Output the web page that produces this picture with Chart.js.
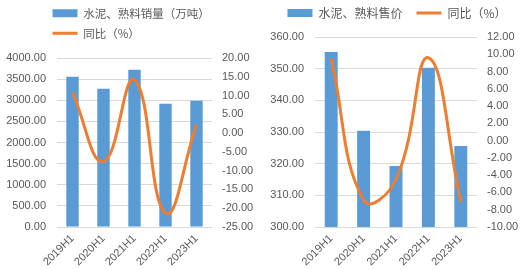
<!DOCTYPE html>
<html>
<head>
<meta charset="utf-8">
<script src="https://cdn.jsdelivr.net/npm/chart.js@4"></script>
<style>
  html, body { margin: 0; padding: 0; background: #fff; }
  .box { position: absolute; top: 0; height: 270px; }
  #left { left: 0; width: 260px; }
  #right { left: 260px; width: 261px; }
</style>
</head>
<body>
<div class="box" id="left"><canvas id="volChart"></canvas></div>
<div class="box" id="right"><canvas id="priceChart"></canvas></div>
<script>
// categories
const periods = ['2019H1', '2020H1', '2021H1', '2022H1', '2023H1'];

// left chart: sales volume (10k t) and yoy %
const volume = [3557, 3273, 3723, 2918, 2989];
const volumeYoy = [10.8, -7.6, 14.2, -21.3, 2.3];

// right chart: price and yoy %
const price = [355.3, 330.4, 319.3, 350.3, 325.6];
const priceYoy = [9.5, -6.9, -4.5, 9.6, -7.1];

const BLUE = '#5b9bd5';
const ORANGE = '#ed7d31';
const TEXT = '#595959';
const GRID = '#d9d9d9';
const NUM_FONT = "'Liberation Sans', 'Noto Sans CJK SC', sans-serif";
const CJK_FONT = "'Noto Sans CJK SC', sans-serif";

// move the legend box after layout, the plot area stays where it is
const legendShift = {
  id: 'legendShift',
  afterLayout(chart, args, opts) {
    const lg = chart.legend;
    if (!lg) return;
    lg.left += opts.dx || 0;
    lg.right += opts.dx || 0;
    lg.top -= opts.dy || 0;
    lg.bottom -= opts.dy || 0;
  }
};

function makeChart(canvasId, cfg) {
  const fmt = v => Number(v).toFixed(2);
  return new Chart(document.getElementById(canvasId), {
    type: 'bar',
    data: {
      labels: periods,
      datasets: [{
        type: 'line',
        label: cfg.lineLabel,
        data: cfg.lineData,
        yAxisID: 'y1',
        borderColor: ORANGE,
        backgroundColor: ORANGE,
        borderWidth: 3,
        tension: 0.45,
        pointRadius: 0,
        pointStyle: 'line'
      }, {
        label: cfg.barLabel,
        data: cfg.barData,
        yAxisID: 'y',
        backgroundColor: BLUE,
        borderWidth: 0,
        barPercentage: 0.4,
        categoryPercentage: 1,
        pointStyle: 'rect'
      }]
    },
    options: {
      responsive: true,
      maintainAspectRatio: false,
      animation: false,
      layout: { padding: cfg.padding },
      plugins: {
        legend: {
          reverse: true,
          align: cfg.legendAlign,
          labels: {
            usePointStyle: true,
            pointStyleWidth: 25,
            boxHeight: 8,
            padding: cfg.legendPadding,
            color: TEXT,
            font: { family: CJK_FONT, size: cfg.legendSize }
          }
        },
        tooltip: { enabled: false },
        legendShift: cfg.shift
      },
      scales: {
        x: {
          grid: { display: false, drawTicks: false },
          border: { display: false },
          afterFit: s => { s.height = 43; },
          ticks: {
            minRotation: 45,
            maxRotation: 45,
            padding: 5,
            color: TEXT,
            font: { family: NUM_FONT, size: 11 }
          }
        },
        y: {
          position: 'left',
          min: cfg.yMin,
          max: cfg.yMax,
          grid: { color: GRID, drawTicks: false },
          border: { display: false },
          afterFit: s => { s.width = cfg.yWidth; },
          ticks: {
            stepSize: cfg.yStep,
            padding: 11,
            color: TEXT,
            font: { family: NUM_FONT, size: 11 },
            callback: fmt
          }
        },
        y1: {
          position: 'right',
          min: cfg.y1Min,
          max: cfg.y1Max,
          grid: { display: false, drawTicks: false },
          border: { display: false },
          afterFit: s => { s.width = cfg.y1Width; },
          ticks: {
            stepSize: cfg.y1Step,
            padding: 10,
            color: TEXT,
            font: { family: NUM_FONT, size: 11 },
            callback: fmt
          }
        }
      }
    },
    plugins: [legendShift]
  });
}

makeChart('volChart', {
  barLabel: '水泥、熟料销量（万吨）',
  lineLabel: '同比（%）',
  barData: volume,
  lineData: volumeYoy,
  yMin: 0, yMax: 4000, yStep: 500,
  y1Min: -25, y1Max: 20, y1Step: 5,
  yWidth: 51, y1Width: 45,
  padding: { top: 8, left: 6, right: 3, bottom: 0 },
  legendAlign: 'start',
  legendPadding: 8.5,
  legendSize: 11.5,
  shift: { dx: 38, dy: 9 }
});

makeChart('priceChart', {
  barLabel: '水泥、熟料售价',
  lineLabel: '同比（%）',
  barData: price,
  lineData: priceYoy,
  yMin: 300, yMax: 360, yStep: 10,
  y1Min: -10, y1Max: 12, y1Step: 2,
  yWidth: 45, y1Width: 41,
  padding: { top: 1, left: 10, right: 3, bottom: 0 },
  legendAlign: 'center',
  legendPadding: 14,
  legendSize: 12,
  shift: { dx: 3, dy: 8 }
});
</script>
</body>
</html>
